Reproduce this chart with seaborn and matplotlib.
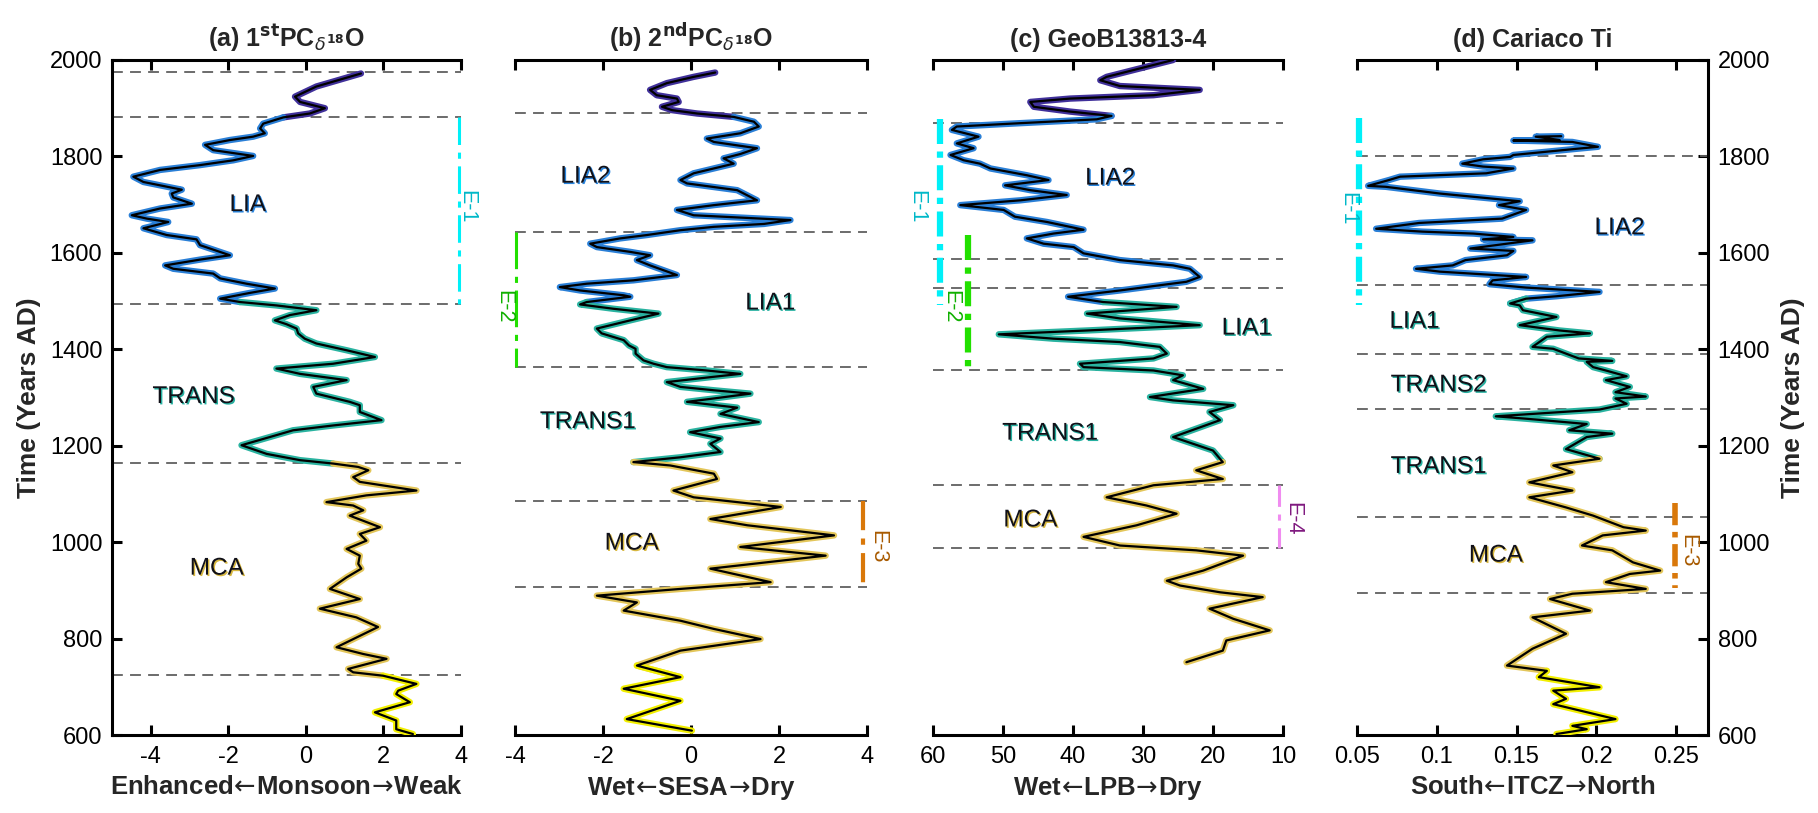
import numpy as np
import pandas as pd
import matplotlib
matplotlib.use("Agg")
import matplotlib.pyplot as plt
import matplotlib.patheffects as pe
import seaborn as sns

sns.set_theme(style="white")
plt.rcParams['font.family'] = ['Liberation Sans', 'DejaVu Sans']
plt.rcParams['mathtext.fontset'] = 'dejavusans'

# ---------------- data ----------------
a_year = [1972,1945,1924,1913,1900,1889,1881,1868,1858,1848,1841,1834,1824,1813,1801,1792,1782,1772,1758,1747,
          1731,1723,1715,1702,1692,1678,1671,1664,1651,1637,1628,1616,1595,1586,1574,1567,1557,1547,1536,1526,
          1517,1505,1498,1491,1481,1471,1460,1452,1443,1433,1422,1412,1398,1384,1370,1360,1349,1336,1322,1308,
          1291,1284,1270,1253,1242,1232,1218,1201,1183,1170,1163,1156,1149,1135,1125,1107,1097,1083,1076,1066,
          1055,1031,1017,1003,986,972,955,945,927,903,882,862,844,824,782,768,758,737,730,723,
          706,692,685,668,647,630,612,602]
a_val = [1.42,0.27,-0.28,-0.15,0.49,0.10,-0.58,-1.10,-1.18,-1.06,-1.36,-1.96,-2.60,-2.39,-1.36,-1.87,-2.73,-3.76,-4.45,-4.19,
         -3.20,-3.46,-3.42,-2.94,-3.76,-4.49,-4.10,-3.55,-4.19,-3.59,-2.82,-2.73,-1.96,-2.73,-3.63,-3.42,-2.39,-2.21,-1.53,-0.80,
         -1.44,-2.21,-1.70,-0.76,0.27,-0.41,-0.80,-0.50,-0.24,-0.20,-0.03,0.27,1.05,1.78,0.70,-0.76,-0.15,1.05,0.19,0.27,
         1.13,1.39,1.39,1.95,0.70,-0.33,-0.93,-1.66,-1.01,-0.15,0.70,1.35,1.61,1.22,1.39,2.85,1.56,0.53,1.22,1.48,
         1.13,1.91,1.39,1.56,1.05,1.39,1.35,1.43,1.05,0.62,1.39,0.36,1.30,1.86,0.79,1.48,2.08,1.09,1.22,1.99,
         2.85,2.38,2.33,2.68,1.78,2.33,2.33,2.76]

b_year = [1974,1965,1952,1938,1927,1920,1913,1903,1896,1889,1882,1872,1862,1848,1837,1830,1817,1805,1796,1785,
          1765,1751,1744,1730,1709,1699,1689,1678,1668,1660,1654,1647,1637,1630,1619,1612,1602,1595,1585,1574,
          1554,1543,1536,1529,1522,1512,1509,1498,1493,1484,1474,1460,1443,1433,1419,1408,1401,1391,1377,1370,
          1363,1356,1349,1343,1332,1322,1315,1308,1298,1291,1279,1266,1249,1239,1228,1215,1204,1187,1176,1166,
          1159,1142,1131,1107,1093,1073,1048,1035,1014,990,972,945,917,903,889,875,858,837,820,799,
          775,744,720,696,671,633,609]
b_val = [0.55,0.06,-0.55,-0.93,-0.78,-0.32,-0.28,-0.66,-0.43,0.14,0.97,1.43,1.54,1.12,0.36,0.52,1.50,1.12,0.74,0.97,
         0.06,-0.24,-0.09,1.05,1.50,0.52,-0.32,0.06,2.26,1.66,0.52,-0.24,-1.00,-1.61,-2.29,-2.14,-1.38,-0.93,-1.23,-0.93,
         -0.32,-1.31,-2.37,-2.98,-2.52,-1.53,-1.38,-2.37,-2.52,-1.76,-0.74,-1.38,-2.14,-2.03,-1.53,-1.41,-1.26,-1.26,-1.08,-0.85,
         -0.55,0.36,1.12,0.52,-0.55,-0.24,0.52,1.35,0.52,-0.09,1.05,0.67,1.54,0.67,-0.02,0.67,0.44,0.67,-0.24,-1.31,
         -0.47,0.52,0.59,-0.40,0.06,2.04,0.44,1.28,3.25,1.12,3.06,0.44,1.81,-0.24,-2.14,-1.23,-1.53,-0.24,0.52,1.58,
         -0.24,-1.23,-0.24,-1.53,-0.24,-1.46,0.02]

c_year = [2000,1986,1965,1958,1946,1938,1927,1920,1913,1903,1893,1884,1877,1869,1862,1855,1841,1827,1817,1803,
          1792,1785,1775,1761,1751,1740,1730,1720,1709,1699,1689,1675,1664,1648,1640,1630,1619,1612,1599,1585,
          1574,1567,1550,1540,1522,1509,1498,1488,1474,1464,1450,1439,1431,1422,1415,1405,1391,1381,1370,1363,
          1356,1346,1336,1318,1301,1294,1284,1270,1253,1218,1190,1166,1149,1131,1118,1093,1076,1059,1035,1011,
          993,983,972,941,920,910,896,886,862,841,817,796,775,751]
c_val = [25.7,29.5,35.2,36.1,33.3,21.9,28.5,40.4,46.1,45.6,40.4,34.5,36.6,47.5,56.6,57.3,53.5,56.6,54.2,57.5,
         55.6,53.3,51.8,46.6,43.5,49.7,46.1,40.9,47.5,56.1,49.9,48.3,43.7,38.5,42.8,46.6,44.2,39.9,38.5,33.3,
         25.7,23.3,21.9,23.8,33.3,40.7,35.7,25.2,38.0,33.3,21.9,38.0,50.6,42.8,33.3,27.6,26.6,28.5,39.0,38.5,
         28.5,24.3,25.7,21.4,29.0,25.7,17.1,20.5,19.0,25.7,20.0,18.6,22.4,18.6,28.5,35.2,29.5,25.2,30.9,38.5,
         33.3,22.4,15.7,21.4,26.6,24.7,19.0,12.9,20.5,17.1,11.9,18.1,18.6,23.8]

d_year = [1842,1841,1834,1833,1830,1820,1815,1803,1799,1794,1785,1779,1775,1765,1758,1751,1739,1737,1723,1707,
          1699,1689,1671,1662,1650,1644,1640,1633,1628,1626,1609,1604,1595,1585,1574,1567,1561,1550,1543,1535,
          1528,1519,1510,1505,1495,1491,1481,1467,1450,1439,1433,1426,1405,1401,1381,1376,1374,1363,1356,1344,
          1336,1322,1311,1302,1298,1287,1275,1261,1256,1245,1232,1225,1218,1193,1173,1159,1145,1124,1107,1093,
          1072,1055,1031,1024,1014,993,983,958,941,934,917,903,893,882,858,844,810,779,744,733,
          720,699,692,675,664,633,619,612,602]
d_val = [0.178,0.162,0.177,0.148,0.185,0.201,0.185,0.148,0.146,0.129,0.116,0.129,0.148,0.131,0.077,0.070,0.057,0.068,0.102,0.152,
         0.139,0.156,0.141,0.089,0.062,0.091,0.123,0.148,0.129,0.160,0.121,0.148,0.144,0.118,0.110,0.087,0.102,0.156,0.135,0.133,
         0.156,0.202,0.175,0.156,0.146,0.152,0.154,0.175,0.152,0.177,0.196,0.169,0.160,0.173,0.189,0.210,0.194,0.198,0.206,0.219,
         0.206,0.221,0.212,0.231,0.212,0.219,0.202,0.137,0.156,0.194,0.183,0.210,0.194,0.181,0.202,0.173,0.185,0.158,0.185,0.158,
         0.181,0.198,0.217,0.231,0.204,0.191,0.210,0.223,0.240,0.221,0.206,0.231,0.185,0.171,0.196,0.160,0.181,0.160,0.144,0.169,
         0.164,0.202,0.173,0.181,0.173,0.212,0.185,0.194,0.175]

# period colouring (year upper, year lower, colour)
period_hi = [2000, 1880, 1495, 1160, 720]
period_lo = [1880, 1495, 1160, 720, 590]
period_col = ['#40309a', '#2a7fd6', '#2ab3a0', '#e3c65a', '#f2ef00']

# dashed boundaries
a_bounds = [1975, 1882, 1494, 1164, 724]
b_bounds = [1890, 1643, 1363, 1085, 907]
c_bounds = [1869, 1587, 1527, 1357, 1118, 988]
d_bounds = [1801, 1533, 1390, 1276, 1052, 894]

titles = [r"(a) 1$^{\mathbf{st}}$PC$_{\delta^{\mathbf{18}}}$O",
          r"(b) 2$^{\mathbf{nd}}$PC$_{\delta^{\mathbf{18}}}$O",
          "(c) GeoB13813-4", "(d) Cariaco Ti"]
LA, RA = r"$\!\leftarrow\!$", r"$\!\rightarrow\!$"
xlabels = ["Enhanced" + LA + "Monsoon" + RA + "Weak", "Wet" + LA + "SESA" + RA + "Dry",
           "Wet" + LA + "LPB" + RA + "Dry", "South" + LA + "ITCZ" + RA + "North"]

# region labels: (text, x, year, shadow colour)
BLUE_T, TEAL_T, GOLD_T = '#2a86e0', '#25b0a0', '#d8b840'
a_labels = [("LIA", -1.5, 1699, BLUE_T), ("TRANS", -2.9, 1301, TEAL_T), ("MCA", -2.3, 945, GOLD_T)]
b_labels = [("LIA2", -2.4, 1758, BLUE_T), ("LIA1", 1.8, 1495, TEAL_T),
            ("TRANS1", -2.35, 1249, TEAL_T), ("MCA", -1.35, 997, GOLD_T)]
c_labels = [("LIA2", 34.7, 1754, BLUE_T), ("LIA1", 15.2, 1443, TEAL_T),
            ("TRANS1", 43.3, 1225, TEAL_T), ("MCA", 46.1, 1045, GOLD_T)]
d_labels = [("LIA2", 0.2145, 1651, BLUE_T), ("LIA1", 0.086, 1457, TEAL_T),
            ("TRANS2", 0.101, 1325, TEAL_T), ("TRANS1", 0.101, 1156, TEAL_T), ("MCA", 0.137, 972, GOLD_T)]

# event bars: (name, x, year_top, year_bottom, label_x, label_year, line colour, text colour, lw, style)
a_events = [("E-1", 3.95, 1882, 1494, 4.15, 1696, '#00f0f8', '#00b8c8', 2.2, (0, (9, 2.5, 2, 2.5)))]
b_events = [("E-2", -3.97, 1643, 1363, -4.25, 1488, '#22e000', '#10b000', 2.2, (0, (12, 2.5, 2, 2.5))),
            ("E-3", 3.92, 1085, 907, 4.25, 990, '#d9780a', '#a85a00', 3.0, (0, (7, 2, 1.5, 2)))]
c_events = [("E-1", 59.05, 1877, 1492, 62.3, 1696, '#00f0f8', '#00b8c8', 4.5, (0, (4, 1.2, 1, 1.2))),
            ("E-2", 55.05, 1637, 1360, 57.4, 1488, '#22e000', '#10b000', 4.5, (0, (4, 1.2, 1, 1.2))),
            ("E-4", 10.6, 1118, 988, 8.6, 1048, '#f08cf0', '#801a80', 2.2, (0, (7, 2.5, 2, 2.5)))]
d_events = [("E-1", 0.0513, 1880, 1492, 0.0444, 1692, '#00f0f8', '#00b8c8', 4.5, (0, (4, 1.2, 1, 1.2))),
            ("E-3", 0.2496, 1081, 905, 0.2573, 983, '#d9780a', '#a85a00', 4.0, (0, (4, 1.2, 1, 1.2)))]

# ---------------- drawing ----------------
W, H = 1818, 813
fig = plt.figure(figsize=(W / 100, H / 100), dpi=100)
fig.patch.set_facecolor('white')

def box(l, r, t=60, b=735):
    return [l / W, (H - b) / H, (r - l) / W, (b - t) / H]

axes = [fig.add_axes(box(112, 461)), fig.add_axes(box(515, 867)),
        fig.add_axes(box(933, 1283)), fig.add_axes(box(1357, 1708))]


def draw_curve(ax, yrs, vals):
    yrs = np.asarray(yrs, float)
    vals = np.asarray(vals, float)
    for hi, lo, col in zip(period_hi, period_lo, period_col):
        idx = np.where((yrs <= hi) & (yrs >= lo))[0]
        if len(idx) == 0:
            continue
        i0 = max(idx.min() - 1, 0)
        i1 = idx.max()
        sub = pd.DataFrame({"v": vals[i0:i1 + 1], "yr": yrs[i0:i1 + 1]})
        sns.lineplot(data=sub, x="v", y="yr", sort=False, estimator=None,
                     color=col, lw=4.6, ax=ax, zorder=3, solid_capstyle='round')
    full = pd.DataFrame({"v": vals, "yr": yrs})
    sns.lineplot(data=full, x="v", y="yr", sort=False, estimator=None,
                 color='black', lw=1.6, ax=ax, zorder=4)


panels = [
    (a_year, a_val, (-5, 4), [-4, -2, 0, 2, 4], ["-4", "-2", "0", "2", "4"], a_bounds, a_labels, a_events),
    (b_year, b_val, (-4, 4), [-4, -2, 0, 2, 4], ["-4", "-2", "0", "2", "4"], b_bounds, b_labels, b_events),
    (c_year, c_val, (60, 10), [60, 50, 40, 30, 20, 10], ["60", "50", "40", "30", "20", "10"], c_bounds, c_labels, c_events),
    (d_year, d_val, (0.05, 0.27), [0.05, 0.1, 0.15, 0.2, 0.25], ["0.05", "0.1", "0.15", "0.2", "0.25"], d_bounds, d_labels, d_events),
]

TICK_FS, XL_FS, YL_FS, TI_FS, REG_FS, EV_FS = 17, 18.5, 19, 18, 17.5, 15.5

for k, (ax, (yrs, vals, xl, xt, xtl, bounds, labels, events)) in enumerate(zip(axes, panels)):
    ax.set_facecolor('white')
    ax.grid(False)
    for yb in bounds:
        ax.axhline(yb, color='#606060', lw=1.3, ls=(0, (6, 4)), zorder=1)
    draw_curve(ax, yrs, vals)
    ax.set_xlim(*xl)
    ax.set_ylim(600, 2000)
    ax.set_xticks(xt, xtl)
    ax.set_yticks(range(600, 2001, 200))

    for s in ax.spines.values():
        s.set_linewidth(2.2)
        s.set_color('black')
    ax.spines['left'].set_visible(k == 0)
    ax.spines['right'].set_visible(k == 3)

    ax.tick_params(axis='x', which='both', direction='in', top=True, bottom=True,
                   length=7, width=2.2, labelsize=TICK_FS, pad=8, colors='black')
    if k == 0:
        ax.tick_params(axis='y', direction='in', left=True, right=False, labelleft=True,
                       length=7, width=2.2, labelsize=TICK_FS, pad=7, colors='black')
        ax.set_ylabel("Time (Years AD)", fontsize=YL_FS, fontweight='bold', labelpad=6)
    elif k == 3:
        ax.yaxis.set_label_position('right')
        ax.tick_params(axis='y', direction='in', left=False, right=True, labelleft=False,
                       labelright=True, length=7, width=2.2, labelsize=TICK_FS, pad=7, colors='black')
        ax.set_ylabel("Time (Years AD)", fontsize=YL_FS, fontweight='bold', labelpad=8)
    else:
        ax.tick_params(axis='y', left=False, right=False, labelleft=False, labelright=False)
        ax.set_ylabel("")

    ax.set_xlabel(xlabels[k], fontsize=XL_FS, fontweight='bold', labelpad=5)
    ax.set_title(titles[k], fontsize=TI_FS, fontweight='bold', pad=9)

    for txt, x, y, col in labels:
        ax.text(x, y, txt, fontsize=REG_FS, color='#101018', ha='center', va='center', zorder=6,
                path_effects=[pe.withSimplePatchShadow(offset=(1.0, -1.0), shadow_rgbFace=col, alpha=1.0)])

    for name, x, y1, y2, lx, ly, lcol, tcol, lw, ls in events:
        ax.plot([x, x], [y1, y2], color=lcol, lw=lw, ls=ls, clip_on=False, zorder=5,
                dash_capstyle='butt')
        ax.text(lx, ly, name, rotation=-90, color=tcol, fontsize=EV_FS, ha='center', va='center',
                clip_on=False, zorder=6)

fig.savefig("out.png", dpi=100, facecolor='white')
